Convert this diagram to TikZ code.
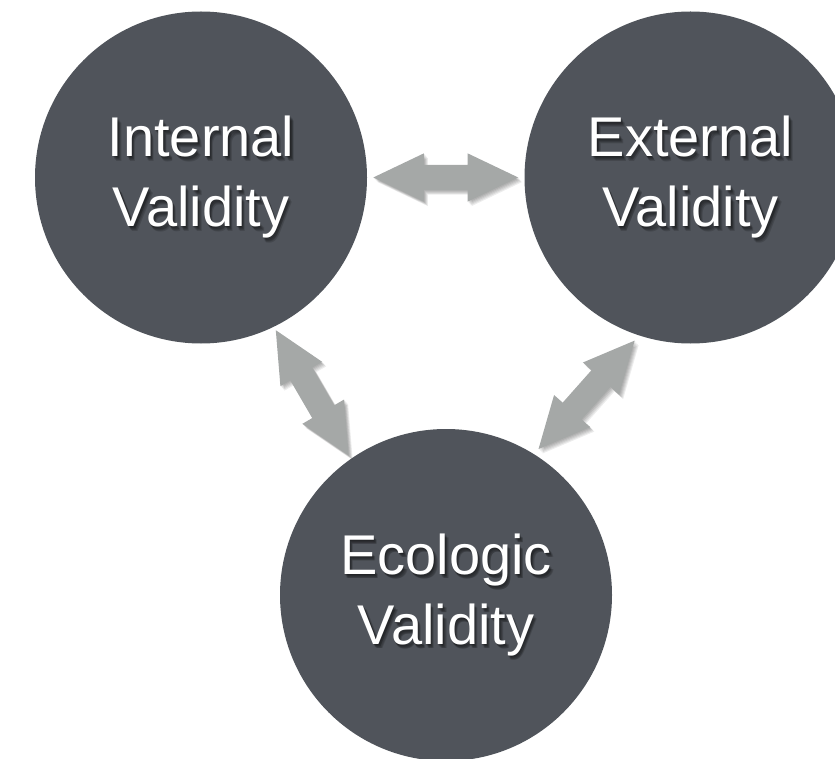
\documentclass[tikz,border=0pt]{standalone}
\usepackage{fontspec}
\setmainfont{Liberation Sans}
\usetikzlibrary{shapes.arrows}
\definecolor{discgray}{HTML}{50545B}
\definecolor{arrowgray}{HTML}{A5A8A7}
\tikzset{
	disc/.style={circle, fill=discgray, minimum size=332pt, inner sep=0pt},
	lbl/.style={align=center, inner sep=0pt, text=white, font=\fontsize{56}{70}\selectfont},
	dblarrow/.style={double arrow, fill=arrowgray, minimum height=145pt, minimum width=48pt, inner xsep=0pt, inner ysep=12.5pt, double arrow head extend=11.5pt, double arrow tip angle=51},
}
% the three double arrows between the discs
\newcommand{\links}[2]{%
	\path (int.east) -- (ext.west) node[midway, sloped, dblarrow, #1] (#2ie) {};
	\path (int.-64) -- (eco.125) node[midway, sloped, dblarrow, #1] (#2ic) {};
	\path (ext.-108) -- (eco.58) node[midway, sloped, dblarrow, #1] (#2ec) {};
}
% the three labels
\newcommand{\labels}[2]{%
	\node[lbl, #1] (#2int) at (int) {Internal\\Validity};
	\node[lbl, #1] (#2ext) at (ext) {External\\Validity};
	\node[lbl, #1] (#2eco) at (eco) {Ecologic\\Validity};
}
\begin{document}
\begin{tikzpicture}[x=1pt, y=-1pt]
	\clip (0,0) rectangle (835,759);
	\node[disc] (int) at (201,177.5) {};
	\node[disc] (ext) at (690.5,177.5) {};
	\node[disc] (eco) at (446,595) {};
	% soft shadows
	\foreach \d in {1,...,5} {
		\begin{scope}[transform canvas={shift={(\d*0.8pt,-\d*0.9pt)}}, opacity=0.07]
			\links{fill=black}{s\d}
		\end{scope}
	}
	\links{}{}
	\foreach \d in {1,...,5} {
		\begin{scope}[transform canvas={shift={(\d*0.7pt,-\d*0.9pt)}}, opacity=0.15]
			\labels{text=black}{s\d}
		\end{scope}
	}
	\labels{}{t}
\end{tikzpicture}
\end{document}
